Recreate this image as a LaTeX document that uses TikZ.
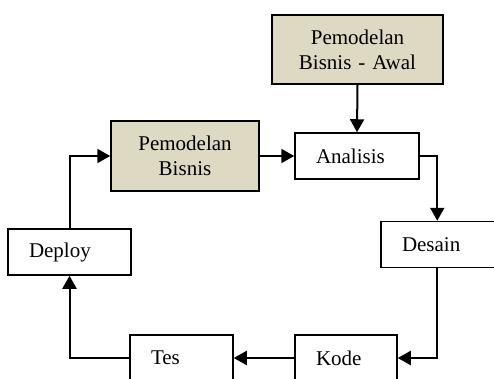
\documentclass[tikz,border=0pt]{standalone}
\usepackage{fontspec}
\setmainfont{Liberation Serif}
\usetikzlibrary{arrows.meta,calc}
\definecolor{tan}{HTML}{DDD9C3}
\begin{document}
\begin{tikzpicture}[x=1pt,y=-1pt,
  box/.style={draw=black,line width=1.5pt,rectangle,inner ysep=0pt,inner xsep=21pt,
    font=\fontsize{21}{25}\selectfont,anchor=center},
  lbox/.style={box,align=left},
  cbox/.style={box,align=center,inner xsep=0pt},
  conn/.style={line width=2pt,-{Triangle[length=13pt,width=14pt]}}]
\useasboundingbox (0,0) rectangle (494,379);
\clip (0,0) rectangle (494,379);
\node[cbox,fill=tan,minimum width=171pt,minimum height=69pt,text width=171pt] (awal) at (357.5,49.5) {Pemodelan\\Bisnis - Awal};
\node[cbox,fill=tan,minimum width=148pt,minimum height=70pt,text width=148pt] (pb) at (185,156) {Pemodelan\\Bisnis};
\node[lbox,fill=white,minimum height=46pt,text width=82pt] (an) at (357,156) {Analisis};
\node[lbox,fill=white,minimum height=46pt,text width=80pt] (de) at (442,244.5) {Desain};
\node[lbox,fill=white,minimum height=46pt,text width=81pt] (dp) at (69.5,252) {Deploy};
\node[lbox,fill=white,minimum height=46pt,text width=61pt] (ts) at (181.5,358) {Tes};
\node[lbox,fill=white,minimum height=46pt,text width=60pt] (kd) at (346,358) {Kode};
\coordinate (detop) at ($(de.north west)+(57,0)$);
\coordinate (debot) at ($(de.south west)+(57,0)$);
\draw[conn] (awal.south) -- (an.north);
\draw[conn] (pb.east) -- (an.west);
\draw[conn] (an.east) -| (detop);
\draw[conn] (debot) |- (kd.east);
\draw[conn] (kd.west) -- (ts.east);
\draw[conn] (ts.west) -| (dp.south);
\draw[conn] (dp.north) |- (pb.west);
\end{tikzpicture}
\end{document}
